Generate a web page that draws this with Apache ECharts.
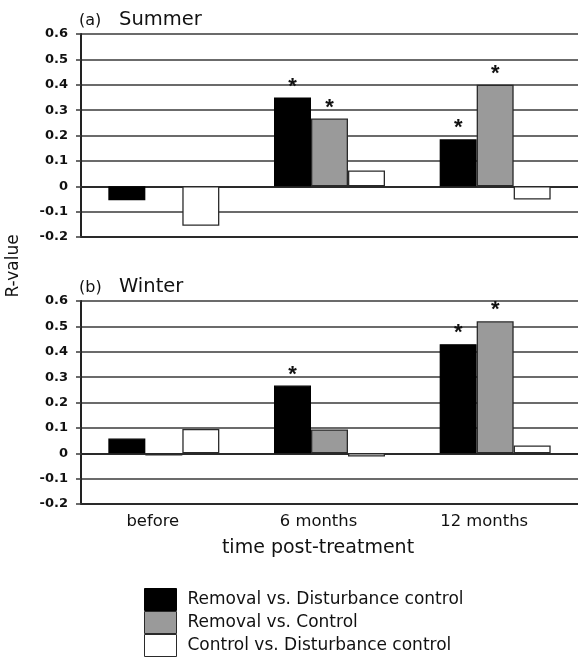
<!DOCTYPE html>
<html>
<head>
<meta charset="utf-8">
<script src="https://cdn.jsdelivr.net/npm/echarts@6/dist/echarts.min.js"></script>
<style>
html,body{margin:0;padding:0;background:#fff;}
#c{width:578px;height:657px;}
</style>
</head>
<body>
<div id="c"></div>
<script>
const categories = ['before', '6 months', '12 months'];
const seriesNames = ['Removal vs. Disturbance control', 'Removal vs. Control', 'Control vs. Disturbance control'];
const panelTitles = [['(a)', 'Summer'], ['(b)', 'Winter']];
const xAxisTitle = 'time post-treatment';
const yAxisTitle = 'R-value';
const yMin = -0.2, yMax = 0.6, yStep = 0.1;

// Summer (a)
const summerRemovalVsDist = [-0.055, 0.35, 0.185];
const summerRemovalVsCtrl = [-0.004, 0.267, 0.40];
const summerCtrlVsDist = [-0.156, 0.062, -0.052];
const summerSignificant = [[0, 1, 1], [0, 1, 1], [0, 0, 0]];

// Winter (b)
const winterRemovalVsDist = [0.058, 0.267, 0.43];
const winterRemovalVsCtrl = [-0.009, 0.094, 0.52];
const winterCtrlVsDist = [0.096, -0.013, 0.031];
const winterSignificant = [[0, 1, 1], [0, 0, 1], [0, 0, 0]];

const FONT = 'DejaVu Sans';
const fills = ['#000000', '#9a9a9a', '#ffffff'];
const borders = ['#000000', '#2a2a2a', '#2a2a2a'];

const panels = [
  {vals: [summerRemovalVsDist, summerRemovalVsCtrl, summerCtrlVsDist], sig: summerSignificant},
  {vals: [winterRemovalVsDist, winterRemovalVsCtrl, winterCtrlVsDist], sig: winterSignificant}
];
const gridTops = [34, 301];
const gridH = 203;

const grids = [], xAxes = [], yAxes = [], series = [];
panels.forEach((p, gi) => {
  grids.push({left: 81, top: gridTops[gi], width: 497, height: gridH});
  xAxes.push({
    type: 'category', gridIndex: gi, data: categories, position: 'bottom',
    axisLine: {show: true, onZero: false, lineStyle: {color: '#2a2a2a', width: 2}},
    axisTick: {show: false},
    axisLabel: {show: gi === 1, fontFamily: FONT, fontSize: 16.4, color: '#111', margin: 10, padding: [0, 22, 0, 0]}
  });
  xAxes.push({
    type: 'category', gridIndex: gi, data: categories, position: 'top',
    axisLine: {show: true, lineStyle: {color: '#2a2a2a', width: 2}},
    axisTick: {show: false}, axisLabel: {show: false}
  });
  yAxes.push({
    type: 'value', gridIndex: gi, min: yMin, max: yMax, interval: yStep,
    axisLine: {show: true, lineStyle: {color: '#222', width: 2}},
    axisTick: {show: true, length: 5, lineStyle: {color: '#3a3a3a', width: 1.5}},
    axisLabel: {fontFamily: FONT, fontWeight: 'bold', fontSize: 13, color: '#111', margin: 13,
      formatter: v => String(+v.toFixed(1))},
    splitLine: {show: true, lineStyle: {color: '#3a3a3a', width: 1.5}}
  });
  p.vals.forEach((arr, si) => {
    series.push({
      type: 'bar', name: seriesNames[si], xAxisIndex: gi * 2, yAxisIndex: gi,
      barCategoryGap: '33%', barGap: '0%',
      itemStyle: {color: fills[si], borderColor: borders[si], borderWidth: 1.3},
      emphasis: {disabled: true},
      data: arr.map((v, ci) => p.sig[si][ci] ? {
        value: v,
        label: {show: true, position: 'top', formatter: '*', fontFamily: 'Liberation Sans', fontWeight: 'bold', fontSize: 22, color: '#111', distance: 0}
      } : v)
    });
  });
});

const chart = echarts.init(document.getElementById('c'), null, {renderer: 'canvas'});
chart.setOption({
  animation: false,
  backgroundColor: '#fff',
  grid: grids, xAxis: xAxes, yAxis: yAxes, series: series,
  legend: {
    data: seriesNames, orient: 'vertical', left: 144, top: 588, height: 300, padding: 0,
    itemWidth: 32, itemHeight: 22, itemGap: 0, icon: 'rect', selectedMode: false,
    itemStyle: {borderWidth: 1},
    textStyle: {fontFamily: FONT, fontSize: 17, lineHeight: 18, color: '#111', padding: [0, 0, 0, 6]}
  },
  graphic: [
    {type: 'text', left: 79, top: 13, style: {text: panelTitles[0][0], font: '16px "DejaVu Sans"', fill: '#111'}},
    {type: 'text', left: 119, top: 10, style: {text: panelTitles[0][1], font: '19.5px "DejaVu Sans"', fill: '#111'}},
    {type: 'text', left: 79, top: 280, style: {text: panelTitles[1][0], font: '16px "DejaVu Sans"', fill: '#111'}},
    {type: 'text', left: 119, top: 277, style: {text: panelTitles[1][1], font: '19.5px "DejaVu Sans"', fill: '#111'}},
    {type: 'text', x: 318, y: 548, style: {text: xAxisTitle, font: '19px "DejaVu Sans"', fill: '#111', align: 'center', verticalAlign: 'middle'}},
    {type: 'text', x: 14, y: 266, rotation: Math.PI / 2, style: {text: yAxisTitle, font: '17px "DejaVu Sans"', fill: '#111', align: 'center', verticalAlign: 'middle'}}
  ]
});
</script>
</body>
</html>
